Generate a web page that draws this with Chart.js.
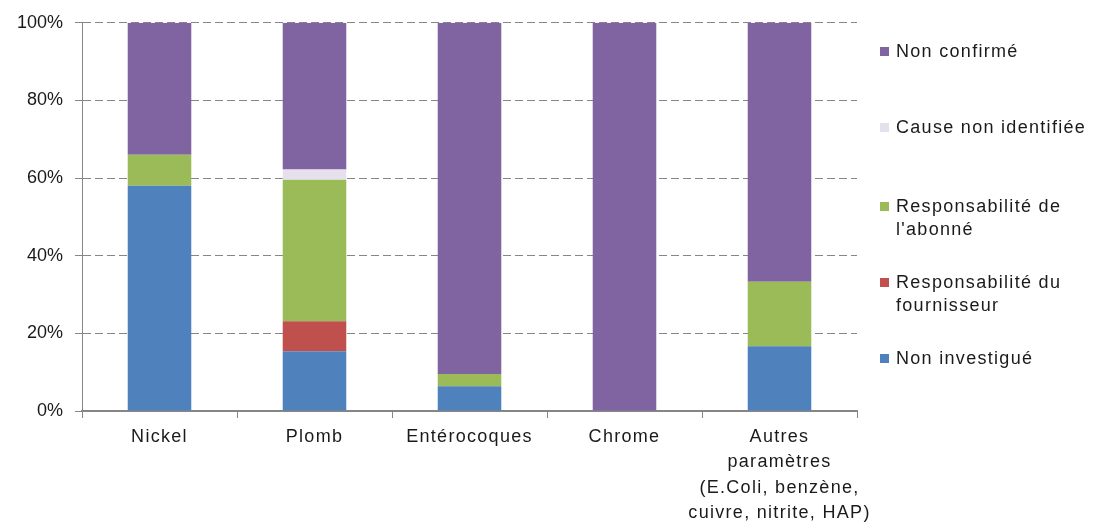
<!DOCTYPE html>
<html lang="fr">
<head>
    <meta charset="UTF-8">
    <title>Répartition des causes par paramètre</title>
    <style>
        body {
            margin: 0;
            padding: 0;
            background: #fff;
            font-family: "Liberation Sans", Arial, sans-serif;
        }

        .wrap {
            position: relative;
            width: 1093px;
            height: 525px;
        }

        .legend {
            position: absolute;
            left: 0;
            top: 0;
        }

        .legend-item {
            position: absolute;
            left: 896px;
            width: 197px;
            font-size: 18px;
            line-height: 23px;
            letter-spacing: 1.3px;
            color: #1a1a1a;
            white-space: pre;
        }

        .legend-item span {
            position: absolute;
            left: -16px;
            top: 7px;
            width: 9px;
            height: 9px;
        }
    </style>
</head>
<body>

    <div class="wrap">
        <canvas id="chart" width="1093" height="525"></canvas>
        <div class="legend" id="legend"></div>
    </div>

    <script src="https://cdn.jsdelivr.net/npm/chart.js"></script>
    <script>
        // categories
        const categories = [
            'Nickel',
            'Plomb',
            'Entérocoques',
            'Chrome',
            ['Autres', 'paramètres', '(E.Coli, benzène,', 'cuivre, nitrite, HAP)']
        ];

        // series (%), bottom to top
        const nonInvestigue   = [58, 15.4, 6.4, 0, 16.7];
        const respFournisseur = [0, 7.7, 0, 0, 0];
        const respAbonne      = [8, 36.5, 3.1, 0, 16.6];
        const causeNonIdent   = [0, 2.6, 0, 0, 0];
        const nonConfirme     = [34, 37.8, 90.5, 100, 66.7];

        const yTicks = [0, 20, 40, 60, 80, 100];

        const series = [
            { label: 'Non investigué', data: nonInvestigue, color: '#4F81BD' },
            { label: 'Responsabilité du\nfournisseur', data: respFournisseur, color: '#C0504D' },
            { label: 'Responsabilité de\nl\'abonné', data: respAbonne, color: '#9BBB59' },
            { label: 'Cause non identifiée', data: causeNonIdent, color: '#E6E0EC' },
            { label: 'Non confirmé', data: nonConfirme, color: '#8064A2' }
        ];

        // letter spacing for the category labels only
        const spacingPlugin = {
            id: 'spacing',
            beforeDraw(chart) {
                const xs = chart.scales.x;
                if (!xs._spaced) {
                    const orig = xs.drawLabels.bind(xs);
                    xs.drawLabels = function (area) {
                        const c = this.ctx;
                        const old = c.letterSpacing;
                        c.letterSpacing = '1.3px';
                        orig(area);
                        c.letterSpacing = old || '0px';
                    };
                    xs._spaced = true;
                }
            }
        };

        const ctx = document.getElementById('chart').getContext('2d');
        const chart = new Chart(ctx, {
            type: 'bar',
            data: {
                labels: categories,
                datasets: series.map(s => ({
                    label: s.label,
                    data: s.data,
                    backgroundColor: s.color,
                    borderWidth: 0,
                    barPercentage: 0.41,
                    categoryPercentage: 1
                }))
            },
            options: {
                responsive: false,
                animation: false,
                layout: {
                    padding: { left: 0, top: 22, right: 236, bottom: 0 }
                },
                plugins: {
                    legend: { display: false },
                    tooltip: { enabled: false }
                },
                scales: {
                    x: {
                        stacked: true,
                        afterFit(scale) { scale.height = 114; },
                        border: { color: '#868686', width: 2 },
                        grid: {
                            offset: true,
                            drawOnChartArea: false,
                            drawTicks: true,
                            tickLength: 7,
                            color: '#868686'
                        },
                        ticks: {
                            color: '#1a1a1a',
                            padding: 6,
                            maxRotation: 0,
                            autoSkip: false,
                            font: { family: '"Liberation Sans", Arial', size: 18, lineHeight: 1.42 }
                        }
                    },
                    y: {
                        stacked: true,
                        min: 0,
                        max: 100,
                        afterFit(scale) { scale.width = 82; },
                        afterBuildTicks(scale) {
                            scale.ticks = yTicks.map(v => ({ value: v }));
                        },
                        // in v4 border.dash is what dashes the grid lines
                        border: { color: '#868686', width: 1, dash: [8, 4] },
                        grid: {
                            color: '#868686',
                            tickBorderDash: [],
                            tickLength: 7
                        },
                        ticks: {
                            color: '#1a1a1a',
                            padding: 12,
                            font: { family: '"Liberation Sans", Arial', size: 18 },
                            callback: v => v + '%'
                        }
                    }
                }
            },
            plugins: [spacingPlugin]
        });

        // legend, top to bottom (reverse of stacking)
        const legendTops = [39.5, 115.5, 194.5, 270.5, 346.5];
        const legendDiv = document.getElementById('legend');
        series.slice().reverse().forEach((s, i) => {
            const item = document.createElement('div');
            item.className = 'legend-item';
            item.style.top = legendTops[i] + 'px';
            item.textContent = s.label;
            const box = document.createElement('span');
            box.style.background = s.color;
            item.prepend(box);
            legendDiv.appendChild(item);
        });
    </script>
</body>
</html>
